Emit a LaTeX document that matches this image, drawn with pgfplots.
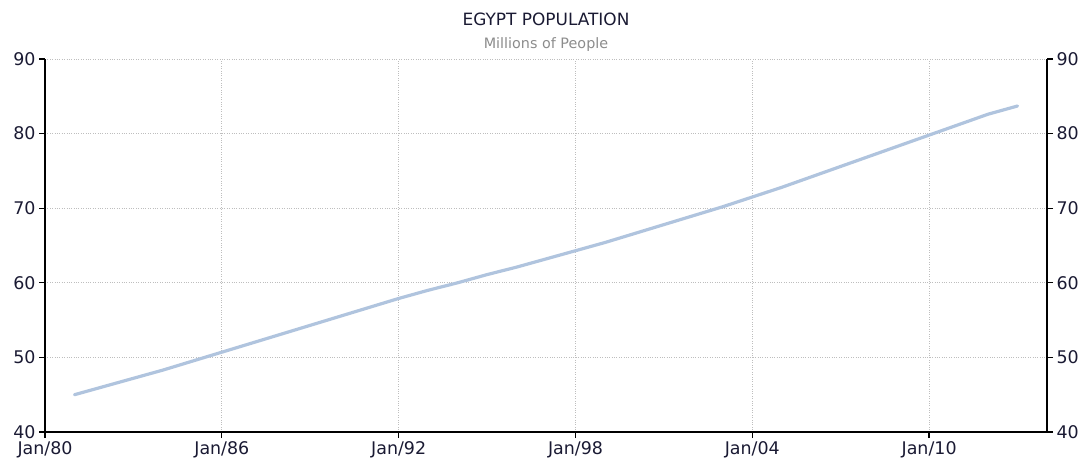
\documentclass[border=0pt]{standalone}
\usepackage{fontspec}
\setmainfont{DejaVu Sans}
\usepackage{pgfplots}
\pgfplotsset{compat=1.18}
\definecolor{linec}{HTML}{B0C4DE}
\definecolor{gridc}{HTML}{BEBEBE}
\definecolor{tickc}{HTML}{1A1A33}
\definecolor{subc}{HTML}{8C8C8C}
\begin{document}
\begin{tikzpicture}
\pgfplotsset{
 common/.style={
  scale only axis, width=1002bp, height=373bp,
  xmin=1980, xmax=2014, ymin=40, ymax=90,
  ytick={40,50,...,90},
  /pgf/number format/assume math mode=true,
  tick label style={font=\fontsize{17.5}{20}\selectfont, text=tickc},
  tick style={black, line width=1.3bp},
  major tick length=6bp,
  tick align=outside,
  axis line style={black, line width=1.6bp},
 }
}
\begin{axis}[common,
  axis x line*=bottom, axis y line*=left,
  xtick={1980,1986,1992,1998,2004,2010},
  xticklabels={Jan/80,Jan/86,Jan/92,Jan/98,Jan/04,Jan/10},
  grid=major, grid style={gridc, dotted, line width=0.9bp},
  ]
\coordinate (SW) at (rel axis cs:0,0);
\coordinate (NE) at (rel axis cs:1,1);
\coordinate (T) at (rel axis cs:0.5,1);
\addplot[linec, line width=3.2bp, line join=round, line cap=round] coordinates {
(1981,45.0) (1982,46.1) (1983,47.2) (1984,48.3) (1985,49.5) (1986,50.7)
(1987,51.9) (1988,53.1) (1989,54.3) (1990,55.5) (1991,56.7) (1992,57.9)
(1993,59.0) (1994,60.0) (1995,61.1) (1996,62.1) (1997,63.2) (1998,64.3)
(1999,65.4) (2000,66.6) (2001,67.8) (2002,69.0) (2003,70.2) (2004,71.5)
(2005,72.8) (2006,74.2) (2007,75.6) (2008,77.0) (2009,78.4) (2010,79.8)
(2011,81.2) (2012,82.6) (2013,83.7)
};
\end{axis}
\begin{axis}[common,
  axis x line=none, axis y line*=right,
  yticklabel pos=right,
  ]
\end{axis}
\node[font=\fontsize{17}{20}\selectfont, text=tickc] at ([yshift=40bp]T) {EGYPT POPULATION};
\node[font=\fontsize{14.4}{17}\selectfont, text=subc] at ([yshift=14bp]T) {Millions of People};
\pgfresetboundingbox
\path ([shift={(-45bp,-31bp)}]SW) rectangle ([shift={(37bp,59bp)}]NE);
\end{tikzpicture}
\end{document}
